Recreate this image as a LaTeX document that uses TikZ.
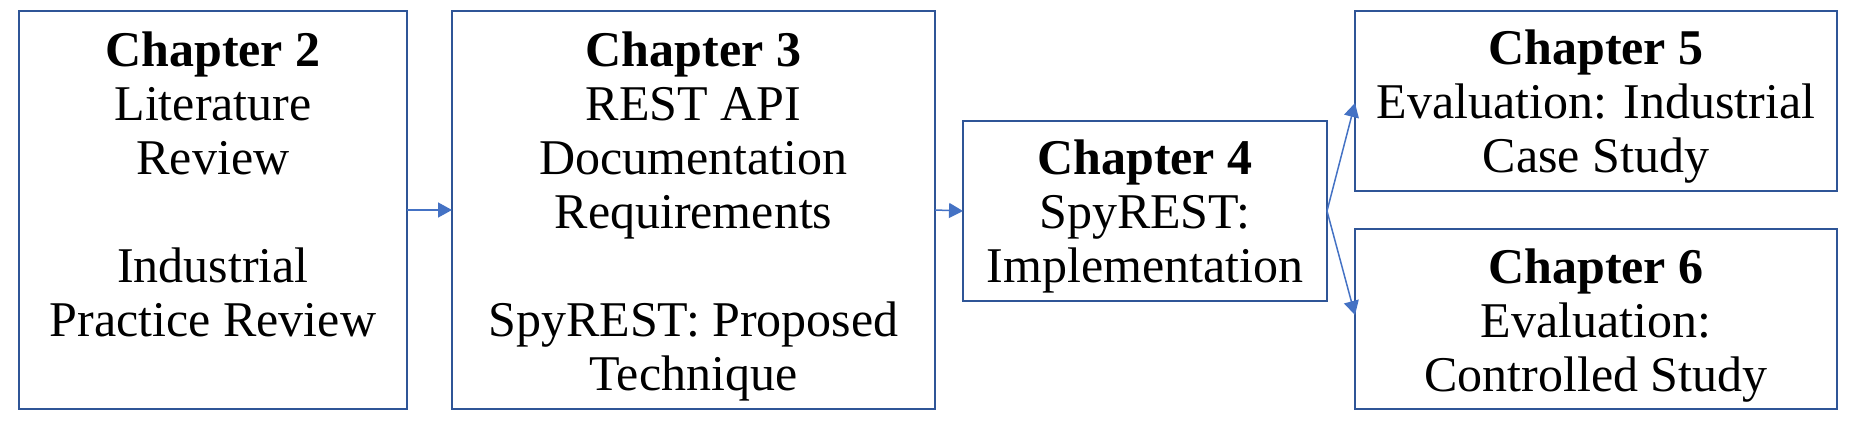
\documentclass[tikz,border=0pt]{standalone}
\usepackage{fontspec}
\setmainfont{Liberation Serif}
\usetikzlibrary{arrows.meta}
\definecolor{boxblue}{HTML}{2F5597}
\definecolor{arrowblue}{HTML}{4472C4}
\begin{document}
\begin{tikzpicture}[x=0.5pt,y=-0.5pt,
  chapbox/.style 2 args={draw=boxblue,line width=1pt,inner sep=0pt,outer sep=0pt,
    minimum width=#1,minimum height=#2},
  txt/.style={anchor=north,inner sep=0pt,align=center,
    font=\fontsize{25}{27}\selectfont},
  conn/.style={draw=arrowblue,line width=0.75pt,
    -{Triangle[length=7pt,width=7.5pt]}}]
\useasboundingbox (0,0) rectangle (1852,422);
% boxes
\node[chapbox={194pt}{199pt}] (b1) at (213,210) {};
\node[chapbox={241.5pt}{199pt}] (b2) at (693.5,210) {};
\node[chapbox={182pt}{90pt}] (b3) at (1145,211) {};
\node[chapbox={241pt}{90pt}] (b4) at (1596,101) {};
\node[chapbox={241pt}{90pt}] (b5) at (1596,319) {};
% texts
\node[txt] (t1) at (213,31) {\textbf{Chapter 2}\\Literature\\Review\\[27pt]Industrial\\Practice Review};
\node[txt] (t2) at (693.5,31) {\textbf{Chapter 3}\\REST API\\Documentation\\Requirements\\[27pt]SpyREST: Proposed\\Technique};
\node[txt] (t3) at (1145,139) {\textbf{Chapter 4}\\SpyREST:\\Implementation};
\node[txt] (t4) at (1596,29) {\textbf{Chapter 5}\\Evaluation: Industrial\\Case Study};
\node[txt] (t5) at (1596,248) {\textbf{Chapter 6}\\Evaluation:\\Controlled Study};
% connectors
\draw[conn] (b1.east) -- (b2.west);
\draw[conn] (b2.east) -- (b3.west);
\draw[conn] (b3.east) -- ([yshift=-1pt]b4.west);
\draw[conn] (b3.east) -- ([yshift=2pt]b5.west);
\end{tikzpicture}
\end{document}
